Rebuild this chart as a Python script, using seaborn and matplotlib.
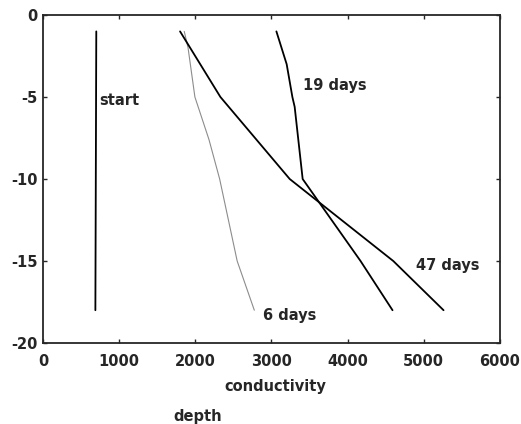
import pandas as pd
import seaborn as sns
import matplotlib.pyplot as plt

sns.set_style("ticks")
plt.rcParams["font.family"] = ["DejaVu Sans"]
plt.rcParams["font.weight"] = "bold"
plt.rcParams["axes.unicode_minus"] = False

# depth profiles
start_depth = [-1, -18]
start_cond = [700, 688]

d6_depth = [-1, -2, -5, -7.6, -10, -15, -18]
d6_cond = [1855, 1905, 1995, 2180, 2320, 2550, 2775]

d19_depth = [-1, -3, -5, -5.6, -10, -15, -18]
d19_cond = [3065, 3200, 3275, 3305, 3410, 4170, 4590]

d47_depth = [-1, -5, -10, -15, -18]
d47_cond = [1800, 2330, 3240, 4600, 5260]

series = ["start", "6 days", "19 days", "47 days"]
depths = [start_depth, d6_depth, d19_depth, d47_depth]
conds = [start_cond, d6_cond, d19_cond, d47_cond]

rows = []
for name, dd, cc in zip(series, depths, conds):
    for d, c in zip(dd, cc):
        rows.append({"series": name, "depth": d, "conductivity": c})
df = pd.DataFrame(rows)

palette = {"start": "black", "6 days": "#8c8c8c", "19 days": "black", "47 days": "black"}

fig = plt.figure(figsize=(5.21, 4.24), dpi=100)
ax = fig.add_axes([0.0825, 0.191, 0.877, 0.7736])

sns.lineplot(data=df, x="conductivity", y="depth", hue="series", units="series",
             estimator=None, sort=False, palette=palette, legend=False, ax=ax,
             linewidth=1.3)
ax.lines[1].set_linewidth(0.8)

ax.set_xlim(0, 6000)
ax.set_ylim(-20, 0)
ax.set_xticks(range(0, 6001, 1000))
ax.set_yticks([0, -5, -10, -15, -20])
ax.tick_params(direction="in", length=3, width=1, top=True, right=True,
               labelsize=10.5)
ax.tick_params(axis="x", pad=8)
ax.tick_params(axis="y", pad=4)
for lab in ax.get_xticklabels() + ax.get_yticklabels():
    lab.set_fontweight("bold")
for s in ax.spines.values():
    s.set_linewidth(1.3)
ax.set_xlabel("")
ax.set_ylabel("")

ax.text(740, -5.2, "start", fontsize=10.5, fontweight="bold", va="center")
ax.text(3420, -4.3, "19 days", fontsize=10.5, fontweight="bold", va="center")
ax.text(4895, -15.3, "47 days", fontsize=10.5, fontweight="bold", va="center")
ax.text(2890, -18.3, "6 days", fontsize=10.5, fontweight="bold", va="center")

fig.text(275 / 521, 1 - 387 / 424, "conductivity", fontsize=10.5, fontweight="bold",
         ha="center", va="center")
fig.text(198 / 521, 1 - 417 / 424, "depth", fontsize=10.5, fontweight="bold",
         ha="center", va="center")

fig.savefig("out.png", dpi=100)
